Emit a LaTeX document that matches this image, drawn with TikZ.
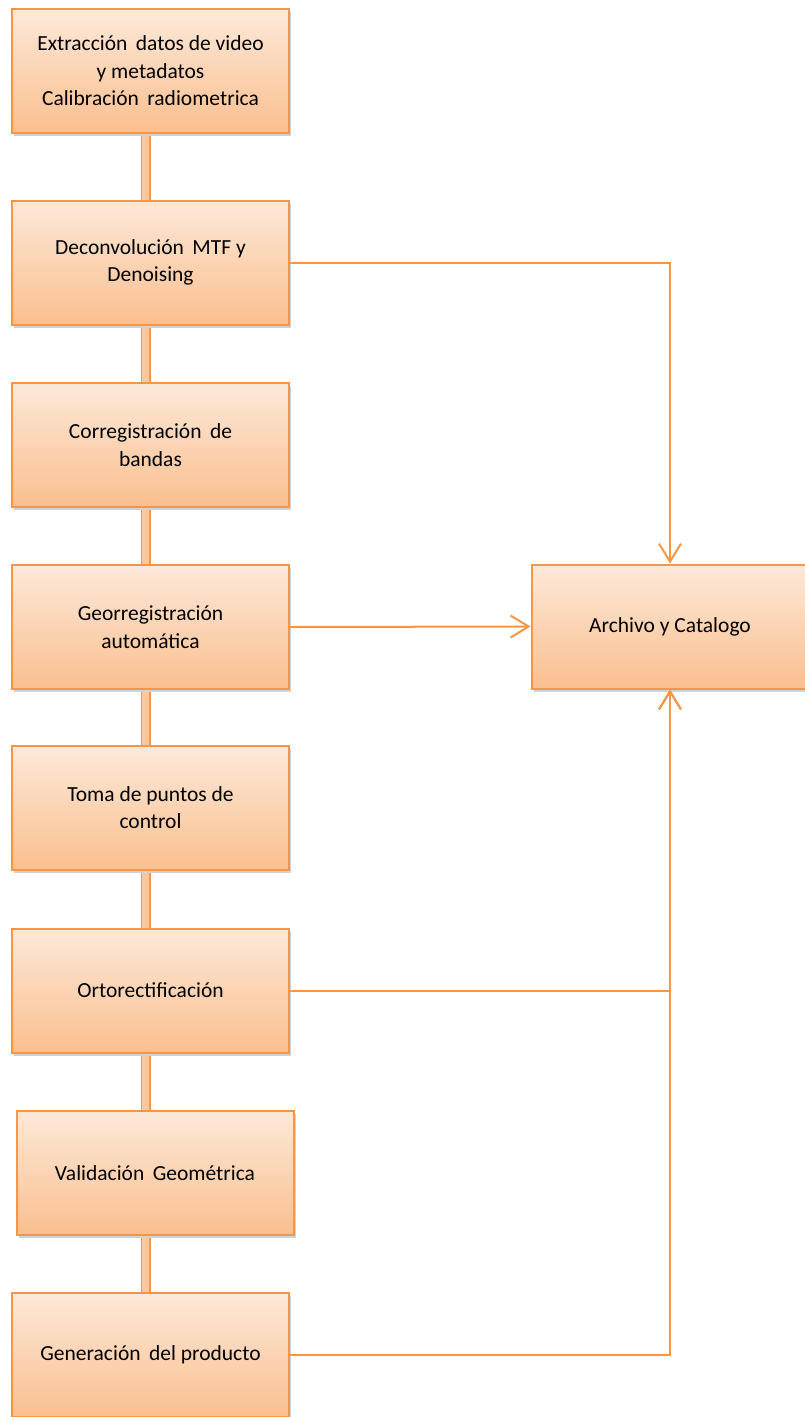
\documentclass[tikz,border=0pt]{standalone}
\usepackage{fontspec}
\setmainfont{Carlito}
\usetikzlibrary{arrows.meta,shadows}
\definecolor{borange}{RGB}{247,150,70}
\definecolor{ltop}{RGB}{253,233,217}
\definecolor{lbot}{RGB}{250,191,143}
\definecolor{lfill}{RGB}{251,200,160}
\tikzset{
  procbox/.style={draw=borange, line width=2pt, top color=ltop, bottom color=lbot,
    minimum width=277pt, minimum height=124pt, align=center, inner sep=4pt,
    font=\fontsize{21.5}{27.5}\selectfont,
    drop shadow={shadow xshift=2pt, shadow yshift=-3pt, opacity=0.35, fill=gray}},
  vconn/.style={draw=borange, line width=1.5pt, double=lfill, double distance=7pt},
  bus/.style={draw=borange, line width=2pt, -{Straight Barb[length=18pt, width=22pt, line width=2pt]}},
}
\begin{document}
\begin{tikzpicture}[x=1pt,y=-1pt]
\fill[white] (0,0) rectangle (804,1417);
\useasboundingbox (0,0) rectangle (804,1417);
\node[procbox] (b1) at (150.5,71) {Extracción\, datos de video\\ y metadatos\\ Calibración\, radiometrica};
\node[procbox] (b2) at (150.5,262.5) {Deconvolución\, MTF y\\ Denoising};
\node[procbox] (b3) at (150.5,445) {Corregistración\, de\\ bandas};
\node[procbox] (b4) at (150.5,627) {Georregistración\\ automática};
\node[procbox] (b5) at (150.5,807.5) {Toma de puntos de\\ control};
\node[procbox] (b6) at (150.5,990.5) {Ortorectificación};
\node[procbox] (b7) at (155,1173) {Validación\, Geométrica};
\node[procbox] (b8) at (150.5,1355) {Generación\, del producto};
\node[procbox] (arch) at (670,626.5) {Archivo y Catalogo};
\foreach \a/\b in {b1/b2,b2/b3,b3/b4,b4/b5,b5/b6,b6/b7,b7/b8}{
  \draw[vconn] ([xshift=-5pt]\a.south -| b1.south) ++(0,2) -- ([xshift=-5pt]\b.north -| b1.north);
}
\draw[bus] (b2.east) -| (arch.north);
\draw[bus] (b4.east) -- (arch.west);
\draw[bus] (b6.east) -| (arch.south);
\draw[bus] (b8.east) -| (arch.south);
\end{tikzpicture}
\end{document}
